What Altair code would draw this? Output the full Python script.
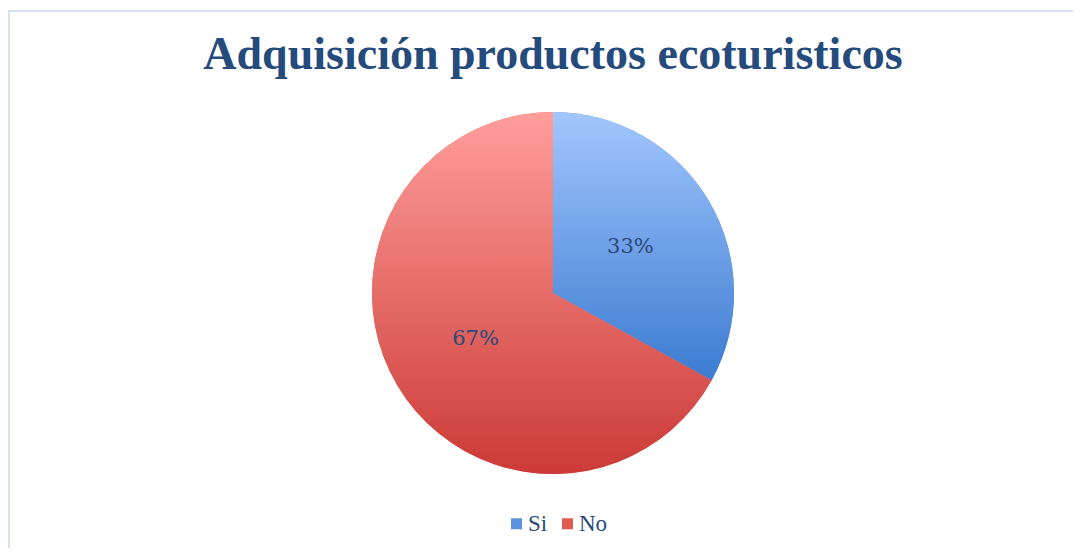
import altair as alt
import pandas as pd

categories = ["Si", "No"]
values = [33, 67]
labels = ["33%", "67%"]
order_idx = [0, 1]

df = pd.DataFrame({"cat": categories, "val": values, "lab": labels, "ord": order_idx})

blue_grad = alt.Gradient(
    gradient="linear",
    stops=[alt.GradientStop(color="#a2c6fe", offset=0), alt.GradientStop(color="#3b7bd0", offset=1)],
    x1=0, x2=0, y1=0, y2=1,
)
red_grad = alt.Gradient(
    gradient="linear",
    stops=[alt.GradientStop(color="#ff9e9b", offset=0), alt.GradientStop(color="#cb3a36", offset=1)],
    x1=0, x2=0, y1=0, y2=1,
)

base = alt.Chart(df).encode(
    theta=alt.Theta("val:Q", stack=True),
    order=alt.Order("ord:Q"),
)

legend_layer = base.mark_arc(radius=181).encode(
    color=alt.Color(
        "cat:N",
        scale=alt.Scale(domain=categories, range=["#5b93df", "#e05a56"]),
        sort=categories,
        legend=alt.Legend(
            title=None,
            orient="none",
            legendX=472,
            legendY=412,
            direction="horizontal",
            symbolType="square",
            symbolSize=121,
            symbolStrokeWidth=0,
            labelFont="Liberation Serif",
            labelFontSize=23,
            labelColor="#2a4a78",
            labelOffset=0,
            columnPadding=8,
        ),
    )
)

grad_layer = base.mark_arc(radius=181).encode(
    fill=alt.condition(alt.datum.cat == "Si", alt.value(blue_grad), alt.value(red_grad))
)

text_layer = base.mark_text(
    radius=90, font="DejaVu Serif", fontSize=21, color="#2a4a78"
).encode(text="lab:N")

border = alt.Chart(df).mark_rect(
    fill=None, stroke="#d3e0f1", strokeWidth=1.5
).encode(
    x=alt.value(-24), y=alt.value(-89), x2=alt.value(3000), y2=alt.value(3000)
)

chart = alt.layer(border, legend_layer, grad_layer, text_layer).properties(
    width=1040,
    height=386,
    padding={"left": 25, "top": 92, "right": 0, "bottom": 62},
    autosize=alt.AutoSizeParams(type="none"),
    title=alt.TitleParams(
        "Adquisición productos ecoturisticos",
        font="Liberation Serif",
        fontSize=46,
        fontWeight="bold",
        color="#254a7c",
        anchor="middle",
        frame="group",
        offset=-69,
    ),
).configure_view(stroke=None)

chart.save("out.html", embed_options={"renderer": "svg", "actions": False})
